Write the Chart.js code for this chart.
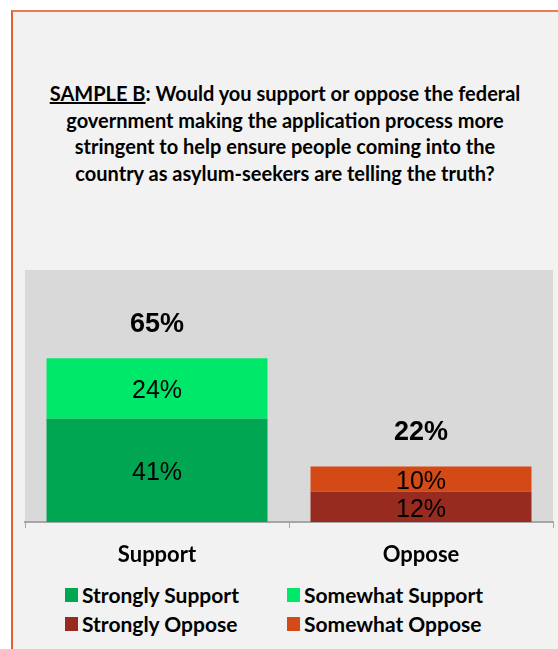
<!DOCTYPE html>
<html>
<head>
<meta charset="utf-8">
<script src="https://cdn.jsdelivr.net/npm/chart.js@4"></script>
<style>
  html, body { margin: 0; padding: 0; background: #ffffff; }
  #page { position: relative; width: 558px; height: 649px; overflow: hidden; background: #ffffff; }
  #frame { position: absolute; left: 11px; top: 10px; width: 560px; height: 660px; background: #f2f2f2;
           border-left: 2px solid #e0622f; border-top: 2px solid #ec7b57; box-sizing: border-box; }
  #title { position: absolute; left: 12px; top: 80px; width: 546px; text-align: center;
           font-family: Lato, "Open Sans", sans-serif; font-weight: bold; font-size: 20px; line-height: 26.5px; color: #000; }
  #title u { text-decoration: underline; }
  #chartbox { position: absolute; left: 0; top: 0; width: 558px; height: 580px; }
  .lg { position: absolute; font-family: Lato, "Open Sans", sans-serif; font-weight: bold; font-size: 21px; color: #000; white-space: nowrap; }
  .sw { position: absolute; width: 13px; height: 14px; }
</style>
</head>
<body>
<div id="page">
  <div id="frame"></div>
  <div id="title"><u>SAMPLE B</u>: Would you support or oppose the federal<br>government making the application process more<br>stringent to help ensure people coming into the<br>country as asylum-seekers are telling the truth?</div>
  <div id="chartbox"><canvas id="c"></canvas></div>
  <div id="legend"></div>
</div>
<script>
const categories = ["Support", "Oppose"];
const seriesNames = ["Strongly Support", "Somewhat Support", "Strongly Oppose", "Somewhat Oppose"];
const stronglySupport = [41, null];
const somewhatSupport = [24, null];
const stronglyOppose = [null, 12];
const somewhatOppose = [null, 10];
const totals = [65, 22];
const seriesColors = ["#00a651", "#00e86a", "#982b20", "#d44a17"];

const seriesValues = [stronglySupport, somewhatSupport, stronglyOppose, somewhatOppose];

const bgPlugin = {
  id: 'plotBg',
  beforeDraw(chart) {
    const { ctx, chartArea: a } = chart;
    ctx.save();
    ctx.fillStyle = '#d9d9d9';
    ctx.fillRect(a.left, a.top, a.right - a.left, a.bottom - a.top);
    ctx.restore();
  }
};

const labelPlugin = {
  id: 'valueLabels',
  afterDatasetsDraw(chart) {
    const ctx = chart.ctx;
    ctx.save();
    ctx.textAlign = 'center';
    ctx.textBaseline = 'middle';
    ctx.fillStyle = '#000';
    ctx.font = '25px "Liberation Sans", Arial, sans-serif';
    const tops = categories.map(() => Infinity);
    const xs = categories.map(() => null);
    chart.data.datasets.forEach((ds, di) => {
      const meta = chart.getDatasetMeta(di);
      meta.data.forEach((el, i) => {
        const v = ds.data[i];
        if (v === null || v === undefined) return;
        ctx.fillText(v + '%', el.x, (el.y + el.base) / 2 + 3);
        tops[i] = Math.min(tops[i], el.y);
        xs[i] = el.x;
      });
    });
    ctx.font = 'bold 27px "Liberation Sans", Arial, sans-serif';
    totals.forEach((t, i) => {
      if (xs[i] !== null) ctx.fillText(t + '%', xs[i], tops[i] - 34);
    });
    ctx.restore();
  }
};

new Chart(document.getElementById('c'), {
  type: 'bar',
  data: {
    labels: categories,
    datasets: seriesNames.map((n, i) => ({
      label: n,
      data: seriesValues[i],
      backgroundColor: seriesColors[i],
      borderWidth: 0,
      barPercentage: 0.837,
      categoryPercentage: 1.0
    }))
  },
  options: {
    responsive: true,
    maintainAspectRatio: false,
    animation: false,
    layout: { padding: { left: 25, right: 5, top: 270, bottom: 0 } },
    plugins: { legend: { display: false }, tooltip: { enabled: false }, title: { display: false } },
    scales: {
      x: {
        stacked: true,
        afterFit: (s) => { s.height = 58; },
        grid: { display: true, drawOnChartArea: false, drawTicks: true, tickLength: 6, color: '#a6a6a6', offset: true },
        border: { display: true, color: '#a6a6a6', width: 2 },
        ticks: { color: '#000', padding: 14, font: { family: 'Lato, "Open Sans", sans-serif', weight: 'bold', size: 22 } }
      },
      y: {
        stacked: true, display: false, min: 0, max: 100
      }
    }
  },
  plugins: [bgPlugin, labelPlugin]
});

// legend (HTML) from series arrays
const legendPos = [[65, 588], [287, 588], [65, 617], [287, 617]];
const lg = document.getElementById('legend');
seriesNames.forEach((n, i) => {
  const [x, y] = legendPos[i];
  const sw = document.createElement('div');
  sw.className = 'sw';
  sw.style.left = x + 'px'; sw.style.top = y + 'px'; sw.style.background = seriesColors[i];
  lg.appendChild(sw);
  const t = document.createElement('div');
  t.className = 'lg';
  t.textContent = n;
  t.style.left = (x + 17) + 'px'; t.style.top = (y - 6) + 'px';
  lg.appendChild(t);
});
</script>
</body>
</html>
